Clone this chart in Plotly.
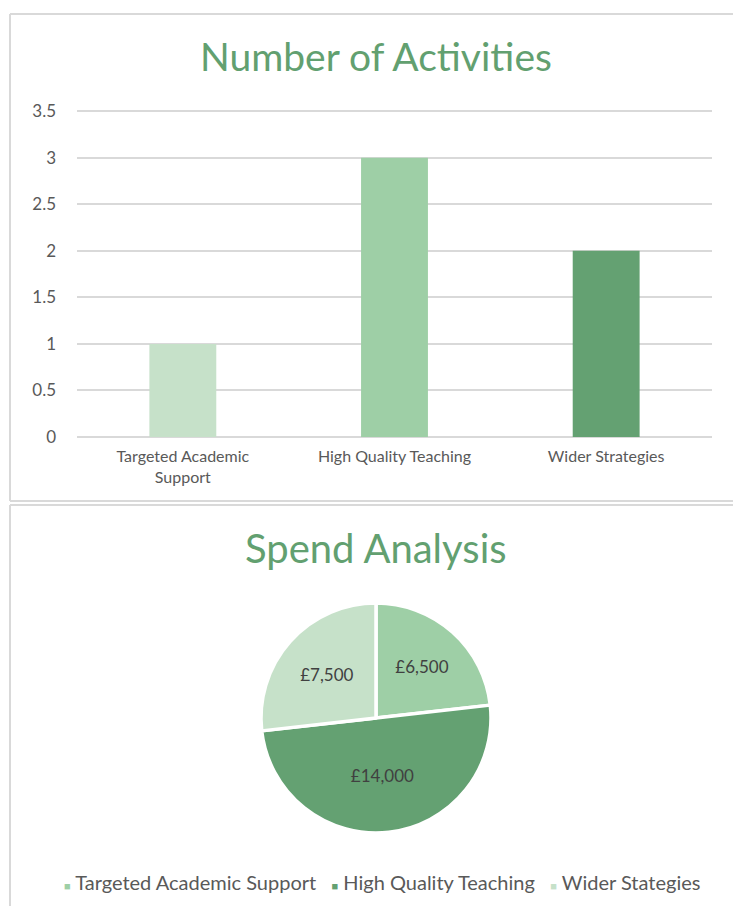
import plotly.graph_objects as go

W, H = 733, 906

# ---- data ----
bar_categories = ["Targeted Academic<br>Support", "High Quality Teaching", "Wider Strategies"]
bar_values = [1, 3, 2]
bar_colors = ["#C6E1C9", "#9ECFA6", "#64A172"]

pie_labels = ["Targeted Academic Support", "High Quality Teaching", "Wider Stategies"]
pie_values = [6500, 14000, 7500]
pie_text = ["£6,500", "£14,000", "£7,500"]
pie_colors = ["#9ECFA6", "#64A172", "#C6E1C9"]

y_ticks = [0, 0.5, 1, 1.5, 2, 2.5, 3, 3.5]

FONT = "Lato"
TXT = "#595959"
GREEN = "#62A070"
BORDER = "#D9D9D9"


def px(x):
    return x / W


def py(y):
    return 1 - y / H


fig = go.Figure()

fig.add_trace(go.Bar(
    x=bar_categories, y=bar_values,
    marker=dict(color=bar_colors, line=dict(width=0)),
    showlegend=False, hoverinfo="x+y",
))

fig.add_trace(go.Pie(
    labels=pie_labels, values=pie_values, text=pie_text,
    textinfo="text", textposition="inside", insidetextorientation="horizontal",
    textfont=dict(family=FONT, size=17, color="#404040"),
    marker=dict(colors=pie_colors, line=dict(color="white", width=3.5)),
    sort=False, direction="clockwise", rotation=0,
    domain=dict(x=[px(261), px(491)], y=[py(833), py(603)]),
    showlegend=False,
))

fig.update_layout(
    width=W, height=H,
    margin=dict(l=0, r=0, t=0, b=0, autoexpand=False),
    paper_bgcolor="white", plot_bgcolor="white",
    showlegend=False,
    bargap=0.684,
    font=dict(family=FONT, color=TXT),
    xaxis=dict(
        domain=[px(77), px(712)],
        anchor="y",
        showgrid=False, showline=False, ticks="",
        ticklabelstandoff=8,
        tickfont=dict(size=16, color=TXT, family=FONT),
        fixedrange=True,
    ),
    yaxis=dict(
        domain=[py(437), py(109.3)],
        anchor="x",
        range=[0, 3.52],
        tickvals=y_ticks,
        ticktext=[f"{v:g}" for v in y_ticks],
        showgrid=True, gridcolor="#D9D9D9", gridwidth=1.5,
        zeroline=True, zerolinecolor="#D9D9D9", zerolinewidth=1.5,
        showline=False, ticks="", ticklabelstandoff=20,
        tickfont=dict(size=17, color=TXT, family=FONT),
        fixedrange=True,
    ),
)

# chart borders
shapes = [
    dict(type="line", xref="paper", yref="paper", x0=px(10), x1=px(10), y0=py(14), y1=py(501),
         line=dict(color=BORDER, width=2)),
    dict(type="line", xref="paper", yref="paper", x0=px(10), x1=1.0, y0=py(14), y1=py(14),
         line=dict(color=BORDER, width=2)),
    dict(type="line", xref="paper", yref="paper", x0=px(10), x1=1.0, y0=py(501), y1=py(501),
         line=dict(color=BORDER, width=2)),
    dict(type="line", xref="paper", yref="paper", x0=px(10), x1=1.0, y0=py(505), y1=py(505),
         line=dict(color=BORDER, width=2)),
    dict(type="line", xref="paper", yref="paper", x0=px(10), x1=px(10), y0=py(505), y1=0,
         line=dict(color=BORDER, width=2)),
]
fig.update_layout(shapes=shapes)

annotations = [
    dict(text="Number of Activities", x=px(376), y=py(56), xref="paper", yref="paper",
         xanchor="center", yanchor="middle", showarrow=False,
         font=dict(family=FONT, size=39, color=GREEN)),
    dict(text="Spend Analysis", x=px(376), y=py(548), xref="paper", yref="paper",
         xanchor="center", yanchor="middle", showarrow=False,
         font=dict(family=FONT, size=40, color=GREEN)),
]

legend_parts = []
for lab, col in zip(pie_labels, pie_colors):
    legend_parts.append(f'<span style="color:{col};font-size:11px">■</span> {lab}')
legend_text = "   ".join(legend_parts)
annotations.append(dict(
    text=legend_text, x=px(382), y=py(882), xref="paper", yref="paper",
    xanchor="center", yanchor="middle", showarrow=False,
    font=dict(family=FONT, size=20, color=TXT),
))
fig.update_layout(annotations=annotations)

post = ("document.documentElement.style.margin='0';"
        "document.body.style.margin='0';"
        "document.body.style.overflow='hidden';")
fig.write_html("out.html", post_script=post, config={"displayModeBar": False})
